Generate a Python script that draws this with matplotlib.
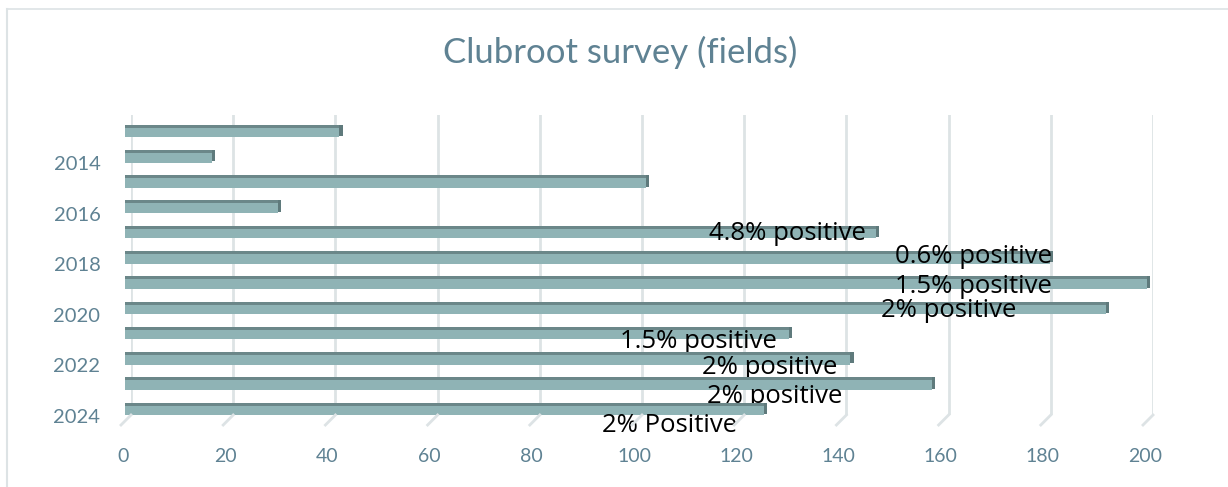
import numpy as np
import matplotlib.pyplot as plt
from matplotlib.patches import Rectangle
from matplotlib.transforms import ScaledTranslation

# Survey data, one bar per year (top = 2013)
years = [2013, 2014, 2015, 2016, 2017, 2018, 2019, 2020, 2021, 2022, 2023, 2024]
fields = [42, 17, 102, 30, 147, 181, 200, 192, 130, 142, 158, 125]

# Data labels attached to some years
label_years = [2017, 2018, 2019, 2020, 2021, 2022, 2023, 2024]
label_text = ['4.8% positive', '0.6% positive', '1.5% positive', '2% positive',
              '1.5% positive', '2% positive', '2% positive', '2% Positive']
# where each label was placed on the chart (right edge in x units, drop below bar)
label_x = [143.8, 180.2, 180.2, 173.2, 126.4, 138.2, 139.3, 118.6]
label_dy = [0.32, 0.24, 0.40, 0.36, 0.57, 0.63, 0.75, 0.91]

front_col = '#8fb3b5'
top_col = '#6b8789'
side_col = '#5f7a7c'
text_col = '#5f8293'
grid_col = '#dde3e5'
font = ['Lato', 'DejaVu Sans']
label_font = ['Open Sans', 'DejaVu Sans']

W, H = 1228, 487
fig = plt.figure(figsize=(W / 100, H / 100), dpi=100)
ax = fig.add_axes([131 / W, 1 - 415 / H, 1022 / W, 300 / H])

ypos = np.arange(len(years))
bar_h = 0.5
shift = -1.2  # 3d look: front face sits a bit left of the gridlines

for i, v in enumerate(fields):
    y0 = ypos[i] - bar_h / 2
    z = 2 + 2 * i
    ax.add_patch(Rectangle((shift, y0), v, bar_h, facecolor=front_col,
                           edgecolor='none', zorder=z, clip_on=False))
    ax.add_patch(Rectangle((shift, y0), v, 0.12, facecolor=top_col,
                           edgecolor='none', zorder=z, clip_on=False))
    ax.add_patch(Rectangle((shift + v, y0), 0.6, bar_h * 0.9,
                           facecolor=side_col, edgecolor='none', zorder=z,
                           clip_on=False))

for yr, txt, lx, dy in zip(label_years, label_text, label_x, label_dy):
    i = years.index(yr)
    ax.text(lx, ypos[i] + dy, txt, ha='right', va='baseline', fontsize=18.5,
            color='black', family=label_font, zorder=3 + 2 * i)

ax.set_xlim(0, 200)
ax.set_ylim(11.24, -0.63)
ax.set_xticks(np.arange(0, 201, 20))
ax.set_yticks(ypos[1::2])
ax.set_yticklabels([str(y) for y in years[1::2]])
ax.tick_params(axis='x', length=0, pad=24, labelsize=14, labelcolor=text_col)
ax.tick_params(axis='y', length=0, pad=22, labelsize=14.5, labelcolor=text_col)
for lab in ax.get_xticklabels() + ax.get_yticklabels():
    lab.set_family(font)

# y labels sit slightly lower than the bars, x labels slightly left
off_y = ScaledTranslation(0, -7 / 100, fig.dpi_scale_trans)
for lab in ax.get_yticklabels():
    lab.set_transform(lab.get_transform() + off_y)
off_x = ScaledTranslation(-8 / 100, 0, fig.dpi_scale_trans)
for lab in ax.get_xticklabels():
    lab.set_transform(lab.get_transform() + off_x)

ax.grid(axis='x', color=grid_col, linewidth=2, zorder=0)
ax.set_axisbelow(True)
for s in ax.spines.values():
    s.set_visible(False)

# little floor hooks at the foot of each gridline
for xv in ax.get_xticks():
    p0 = ax.transData.transform((xv, 11.24))
    p1 = p0 + np.array([-10, -10])
    fig.add_artist(plt.Line2D([p0[0] / W, p1[0] / W], [p0[1] / H, p1[1] / H],
                              color=grid_col, linewidth=2,
                              transform=fig.transFigure))

fig.text(620 / W, 1 - 52 / H, 'Clubroot survey (fields)', ha='center',
         va='center', fontsize=25, color=text_col, family=font)

# chart frame (top and left edges)
fig.add_artist(plt.Line2D([7 / W, 1], [1 - 9 / H, 1 - 9 / H],
                          color=grid_col, linewidth=1.2, transform=fig.transFigure))
fig.add_artist(plt.Line2D([7 / W, 7 / W], [0, 1 - 9 / H],
                          color=grid_col, linewidth=1.5, transform=fig.transFigure))

fig.savefig('out.png', dpi=100)
